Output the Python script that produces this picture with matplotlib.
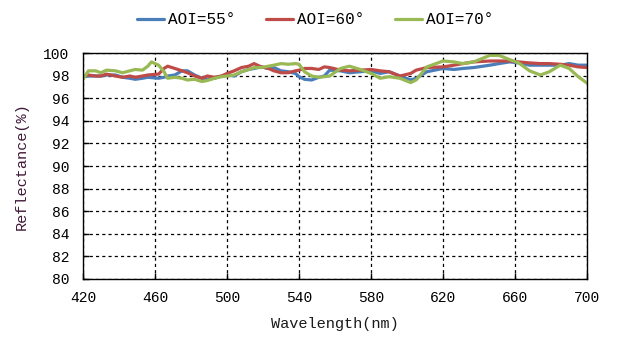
import matplotlib
matplotlib.use("Agg")
import matplotlib.pyplot as plt

# Measured reflectance spectra at three angles of incidence
wavelength = [420, 423, 427, 430, 433, 438, 442, 446, 449, 453, 456, 458, 462, 465, 467,
              471, 475, 478, 482, 486, 489, 493, 497, 500, 504, 508, 512, 515, 519, 523,
              526, 530, 534, 538, 540, 543, 547, 551, 554, 557, 563, 568, 574, 580, 585,
              590, 596, 602, 605, 611, 620, 626, 631, 637, 646, 651, 657, 662, 668, 674,
              679, 685, 690, 695, 700]

aoi_55 = [97.91, 97.97, 97.97, 97.97, 98.06, 98.06, 97.86, 97.77, 97.68, 97.77, 97.86, 97.83,
          97.77, 97.86, 97.97, 98.06, 98.43, 98.43, 98.06, 97.77, 97.68, 97.77, 97.97, 98.06,
          97.97, 98.35, 98.55, 98.64, 98.78, 98.64, 98.72, 98.43, 98.35, 98.20, 97.91, 97.68,
          97.62, 97.86, 97.97, 98.49, 98.43, 98.26, 98.35, 98.43, 98.20, 98.35, 97.97, 97.62,
          97.77, 98.35, 98.64, 98.55, 98.64, 98.72, 98.93, 99.07, 99.22, 99.13, 98.93, 98.93,
          98.93, 98.93, 99.07, 98.93, 98.93]

aoi_60 = [97.97, 98.06, 97.97, 97.97, 98.14, 97.97, 97.86, 97.97, 97.86, 97.97, 98.06, 98.09,
          98.14, 98.64, 98.84, 98.64, 98.43, 98.26, 97.97, 97.77, 97.97, 97.86, 97.97, 98.20,
          98.43, 98.72, 98.84, 99.07, 98.78, 98.64, 98.43, 98.26, 98.26, 98.43, 98.49, 98.64,
          98.64, 98.55, 98.78, 98.72, 98.49, 98.43, 98.49, 98.55, 98.43, 98.35, 97.97, 98.20,
          98.49, 98.72, 98.78, 98.93, 99.07, 99.22, 99.30, 99.30, 99.30, 99.22, 99.13, 99.07,
          99.07, 99.01, 98.93, 98.78, 98.72]

aoi_70 = [97.68, 98.43, 98.43, 98.26, 98.49, 98.43, 98.26, 98.43, 98.55, 98.49, 98.84, 99.22,
          98.93, 98.35, 97.77, 97.86, 97.77, 97.62, 97.68, 97.48, 97.57, 97.77, 97.91, 97.97,
          98.06, 98.35, 98.55, 98.72, 98.72, 98.84, 98.93, 99.07, 99.01, 99.07, 99.01, 98.35,
          97.97, 97.86, 97.91, 97.97, 98.64, 98.84, 98.55, 98.20, 97.77, 97.91, 97.77, 97.39,
          97.62, 98.78, 99.30, 99.22, 99.07, 99.22, 99.80, 99.80, 99.42, 99.13, 98.43, 98.06,
          98.35, 98.93, 98.64, 97.91, 97.33]

series_labels = ["AOI=55°", "AOI=60°", "AOI=70°"]
series_colors = ["#4A7EBB", "#BE4B48", "#98B954"]

x_ticks = [420, 460, 500, 540, 580, 620, 660, 700]
y_ticks = [80, 82, 84, 86, 88, 90, 92, 94, 96, 98, 100]

font = ["Liberation Mono", "DejaVu Sans Mono"]
plt.rcParams["font.family"] = font

fig = plt.figure(figsize=(6.24, 3.47), dpi=100)
ax = fig.add_axes([0.133, 0.196, 0.808, 0.651])

for values, label, color in zip([aoi_55, aoi_60, aoi_70], series_labels, series_colors):
    ax.plot(wavelength, values, color=color, lw=2.3, label=label,
            solid_joinstyle="round", solid_capstyle="round")

ax.set_xlim(420, 700)
ax.set_ylim(80, 100)
ax.set_xticks(x_ticks)
ax.set_yticks(y_ticks)
ax.grid(True, color="black", linestyle=(0, (2.5, 2.5)), lw=0.9)
ax.set_axisbelow(True)
for sp in ax.spines.values():
    sp.set_color("black")
    sp.set_linewidth(1.0)
ax.tick_params(direction="in", length=4, width=1, labelsize=10.5, colors="black")
ax.tick_params(axis="x", pad=9)
ax.tick_params(axis="y", pad=10)

ax.set_xlabel("Wavelength(nm)", fontsize=11, labelpad=8, color="#1a1a1a")
ax.set_ylabel("Reflectance(%)", fontsize=11, labelpad=10, color="#401838")

fig.legend(loc="center", bbox_to_anchor=(0.505, 0.943), ncol=3, frameon=False,
           fontsize=11.5, handlelength=1.7, handletextpad=0.25, columnspacing=1.9)

fig.savefig("out.png", dpi=100)
